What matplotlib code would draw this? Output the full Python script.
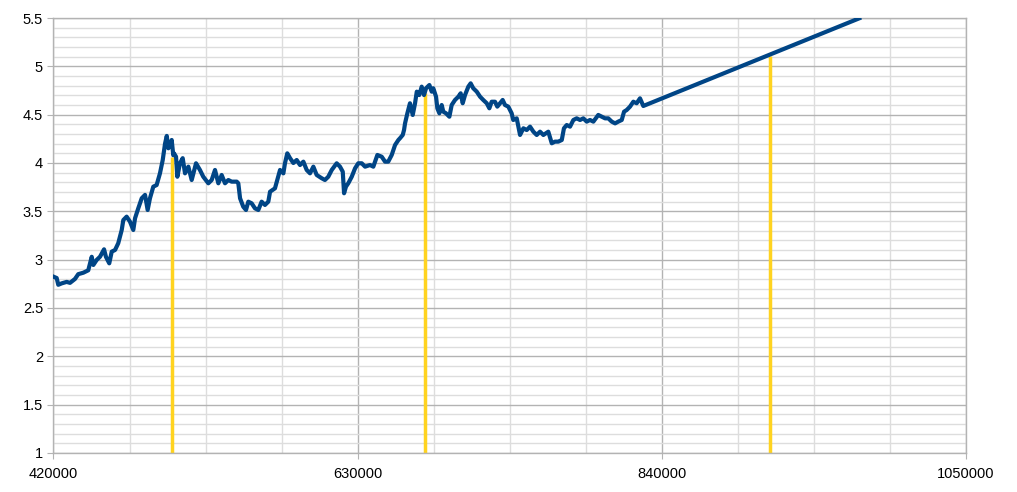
import matplotlib
matplotlib.use('Agg')
import matplotlib.pyplot as plt
from matplotlib.ticker import MultipleLocator, FuncFormatter

# block height vs value
block = [420000, 422200, 423300, 425700, 429100, 431400, 434800, 437100, 440600, 444000,
         446400, 447500, 449800, 452100, 454900, 456200, 458500, 460200, 462500, 464700,
         467100, 468200, 470500, 472800, 475100, 476300, 478500, 480900, 483200, 485000,
         486600, 488900, 491200, 493500, 495400, 497000, 498200, 499300, 500900, 501600,
         502700, 503200, 504600, 505500, 507300, 509200, 510800, 513100, 515400, 518400,
         521100, 523400, 526900, 529200, 531500, 533800, 536100, 538400, 540700, 543000,
         546500, 547600, 548800, 551000, 552900, 554500, 556800, 559100, 561400, 563700,
         566000, 568300, 569500, 572900, 574500, 576400, 578700, 579800, 581400, 583300,
         585600, 587900, 590200, 592500, 594800, 597100, 599400, 601700, 605200, 607400,
         609700, 612100, 615500, 617800, 619700, 620600, 621900, 623500, 625900, 628200,
         630400, 632800, 635100, 638500, 640800, 643600, 646600, 648900, 651100, 653500,
         655800, 658100, 659200, 661100, 662000, 662700, 664300, 666100, 668000, 669600,
         670800, 672500, 674200, 675800, 677200, 679500, 681100, 682200, 684100, 685000,
         686400, 688000, 689100, 691000, 693300, 694900, 697200, 699500, 701100, 702500,
         704100, 706400, 708000, 709800, 712200, 714500, 716700, 719100, 720900, 722500,
         724800, 726400, 728300, 730100, 731700, 734000, 736300, 737400, 739800, 742100,
         744400, 746700, 749000, 751300, 753600, 755900, 758200, 761600, 764000, 766200,
         768500, 770900, 772400, 774300, 776600, 778900, 781200, 783500, 785800, 788100,
         790400, 792700, 796100, 798500, 800800, 803000, 805400, 807700, 809900, 812300,
         813900, 815700, 818000, 820300, 822600, 824900, 827200, 976300]
value = [2.824, 2.81, 2.74, 2.755, 2.77, 2.76, 2.80, 2.85, 2.865, 2.89,
         3.03, 2.945, 2.997, 3.03, 3.107, 3.03, 2.962, 3.083, 3.10, 3.17,
         3.307, 3.41, 3.445, 3.393, 3.307, 3.428, 3.53, 3.635, 3.67, 3.514,
         3.635, 3.755, 3.772, 3.893, 4.03, 4.20, 4.28, 4.152, 4.20, 4.238,
         4.08, 4.10, 4.065, 3.858, 3.997, 4.05, 3.893, 3.962, 3.824, 3.997,
         3.928, 3.858, 3.79, 3.824, 3.928, 3.79, 3.876, 3.79, 3.824, 3.807,
         3.807, 3.79, 3.635, 3.548, 3.514, 3.60, 3.583, 3.531, 3.514, 3.60,
         3.566, 3.60, 3.703, 3.738, 3.824, 3.928, 3.893, 3.997, 4.10, 4.05,
         4.00, 4.031, 3.979, 4.014, 3.928, 3.893, 3.962, 3.876, 3.842, 3.824,
         3.858, 3.928, 3.997, 3.962, 3.910, 3.687, 3.755, 3.79, 3.858, 3.945,
         3.997, 3.997, 3.962, 3.979, 3.962, 4.083, 4.065, 4.014, 4.014, 4.083,
         4.186, 4.238, 4.256, 4.29, 4.341, 4.41, 4.514, 4.618, 4.497, 4.618,
         4.738, 4.703, 4.79, 4.703, 4.773, 4.807, 4.738, 4.773, 4.686, 4.566,
         4.514, 4.60, 4.531, 4.514, 4.479, 4.60, 4.652, 4.686, 4.721, 4.618,
         4.703, 4.79, 4.824, 4.773, 4.738, 4.686, 4.652, 4.618, 4.566, 4.634,
         4.634, 4.583, 4.618, 4.652, 4.60, 4.583, 4.514, 4.445, 4.462, 4.29,
         4.359, 4.341, 4.376, 4.324, 4.29, 4.324, 4.29, 4.324, 4.204, 4.221,
         4.221, 4.238, 4.359, 4.393, 4.376, 4.445, 4.462, 4.445, 4.462, 4.428,
         4.445, 4.428, 4.497, 4.479, 4.462, 4.462, 4.428, 4.41, 4.428, 4.445,
         4.531, 4.548, 4.583, 4.634, 4.618, 4.669, 4.59, 5.497]

# vertical markers
marker_x = [502000, 676500, 914700]
marker_top = [4.06, 4.72, 5.11]

fig = plt.figure(figsize=(10.17, 4.92), dpi=100)
ax = fig.add_axes([0.0526, 0.0793, 0.8973, 0.8841])

ax.vlines(marker_x, 1, marker_top, color='#ffd320', linewidth=2.5, zorder=2)
ax.plot(block, value, color='#004586', linewidth=3.0, zorder=3,
        solid_joinstyle='round')

ax.set_xlim(420000, 1050000)
ax.set_ylim(1, 5.5)
ax.xaxis.set_major_locator(MultipleLocator(210000))
ax.xaxis.set_minor_locator(MultipleLocator(52500))
ax.yaxis.set_major_locator(MultipleLocator(0.5))
ax.yaxis.set_minor_locator(MultipleLocator(0.1))
ax.yaxis.set_major_formatter(FuncFormatter(lambda v, p: '%g' % v))
ax.xaxis.set_major_formatter(FuncFormatter(lambda v, p: '%d' % v))

ax.grid(which='major', color='#b3b3b3', linewidth=1.0, zorder=0)
ax.grid(which='minor', color='#dddddd', linewidth=1.0, zorder=0)
ax.set_axisbelow(True)

for s in ax.spines.values():
    s.set_color('#b3b3b3')
    s.set_linewidth(1.0)

ax.tick_params(which='major', length=4, color='#b3b3b3', labelsize=10.5,
               labelcolor='#000000')
ax.tick_params(which='minor', length=0)
ax.tick_params(axis='x', pad=6)
for lab in ax.get_xticklabels() + ax.get_yticklabels():
    lab.set_family(['Liberation Sans', 'DejaVu Sans'])

fig.savefig('out.png', dpi=100)
